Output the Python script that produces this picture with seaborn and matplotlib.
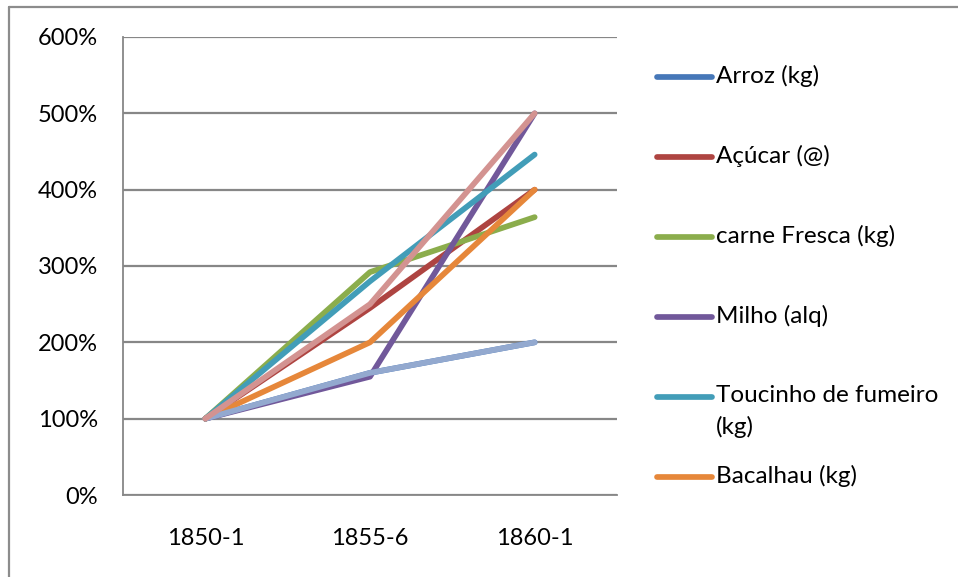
import matplotlib
matplotlib.use("Agg")
import matplotlib.pyplot as plt
from matplotlib.lines import Line2D
from matplotlib.ticker import FixedLocator, FuncFormatter
import seaborn as sns
import pandas as pd

# Price index by period (1850-1 = 100%)
periods = ["1850-1", "1855-6", "1860-1"]
series_names = ["Arroz (kg)", "Açúcar (@)", "carne Fresca (kg)", "Milho (alq)",
                "Toucinho de fumeiro (kg)", "Bacalhau (kg)", "Série 7", "Série 8"]
arroz = [100, 160, 200]
acucar = [100, 245, 400]
carne = [100, 292, 364]
milho = [100, 155, 500]
toucinho = [100, 280, 446]
bacalhau = [100, 200, 400]
serie7 = [100, 160, 200]
serie8 = [100, 250, 500]
values = [arroz, acucar, carne, milho, toucinho, bacalhau, serie7, serie8]
colors = ["#4677B8", "#AE4441", "#8BAD4C", "#71589A", "#429DB8", "#E6873A",
          "#93A9CF", "#D39391"]
# only the first six series appear in the legend
legend_labels = ["Arroz (kg)", "Açúcar (@)", "carne Fresca (kg)", "Milho (alq)",
                 "Toucinho de fumeiro\n(kg)", "Bacalhau (kg)"]
y_ticks = [0, 100, 200, 300, 400, 500, 600]

rows = []
for name, vals in zip(series_names, values):
    for i, v in enumerate(vals):
        rows.append({"serie": name, "pos": i, "valor": v})
df = pd.DataFrame(rows)

sns.set_theme(style="white")
plt.rcParams["font.family"] = ["Lato", "DejaVu Sans"]

fig = plt.figure(figsize=(9.58, 5.77), dpi=100)
ax = fig.add_axes([123 / 958, 1 - 495 / 577, (617 - 123) / 958, (495 - 37) / 577])

sns.lineplot(data=df, x="pos", y="valor", hue="serie", hue_order=series_names,
             palette=dict(zip(series_names, colors)), linewidth=4.1, legend=False,
             sort=False, ax=ax, solid_capstyle="round", solid_joinstyle="round")

grid_c = "#878787"
ax.set_xlim(-0.5, 2.5)
ax.set_ylim(0, 600)
ax.yaxis.set_major_locator(FixedLocator(y_ticks))
ax.yaxis.set_major_formatter(FuncFormatter(lambda v, p: f"{int(v)}%"))
ax.set_xticks([0, 1, 2])
ax.set_xticklabels(periods)
ax.set_xticks([-0.5, 0.5, 1.5, 2.5], minor=True)
ax.tick_params(axis="x", which="major", length=0, pad=24, labelsize=17, colors="black")
ax.tick_params(axis="x", which="minor", length=7, width=1.3, color=grid_c, direction="out")
ax.tick_params(axis="y", length=7, width=1.3, color=grid_c, pad=11, labelsize=17,
               colors="black", direction="out")
for lbl in ax.get_yticklabels() + ax.get_xticklabels():
    lbl.set_color("black")
ax.grid(axis="y", color=grid_c, linewidth=1.6)
ax.set_axisbelow(True)
for s in ["top", "right"]:
    ax.spines[s].set_visible(False)
for s in ["left", "bottom"]:
    ax.spines[s].set_color(grid_c)
    ax.spines[s].set_linewidth(1.3)
ax.set_xlabel("")
ax.set_ylabel("")

# legend entries placed in figure pixel coordinates
W, H = 958, 577
entry_y = [77, 157, 237, 317, 397, 477]
for lab, col, yy in zip(legend_labels, colors, entry_y):
    fig.add_artist(Line2D([657 / W, 712 / W], [1 - yy / H] * 2, color=col,
                          linewidth=4.1, solid_capstyle="round"))
    fig.text(716 / W, 1 - (yy - 12) / H, lab, fontsize=17.5, color="black",
             va="top", ha="left", linespacing=1.55)

# chart frame (left and top edges)
fig.add_artist(Line2D([9 / W, 9 / W], [0, 1 - 7 / H], color="#8C8C8C", linewidth=1.6))
fig.add_artist(Line2D([9 / W, 1], [1 - 7 / H, 1 - 7 / H], color="#8C8C8C", linewidth=1.6))

fig.savefig("out.png", dpi=100)
